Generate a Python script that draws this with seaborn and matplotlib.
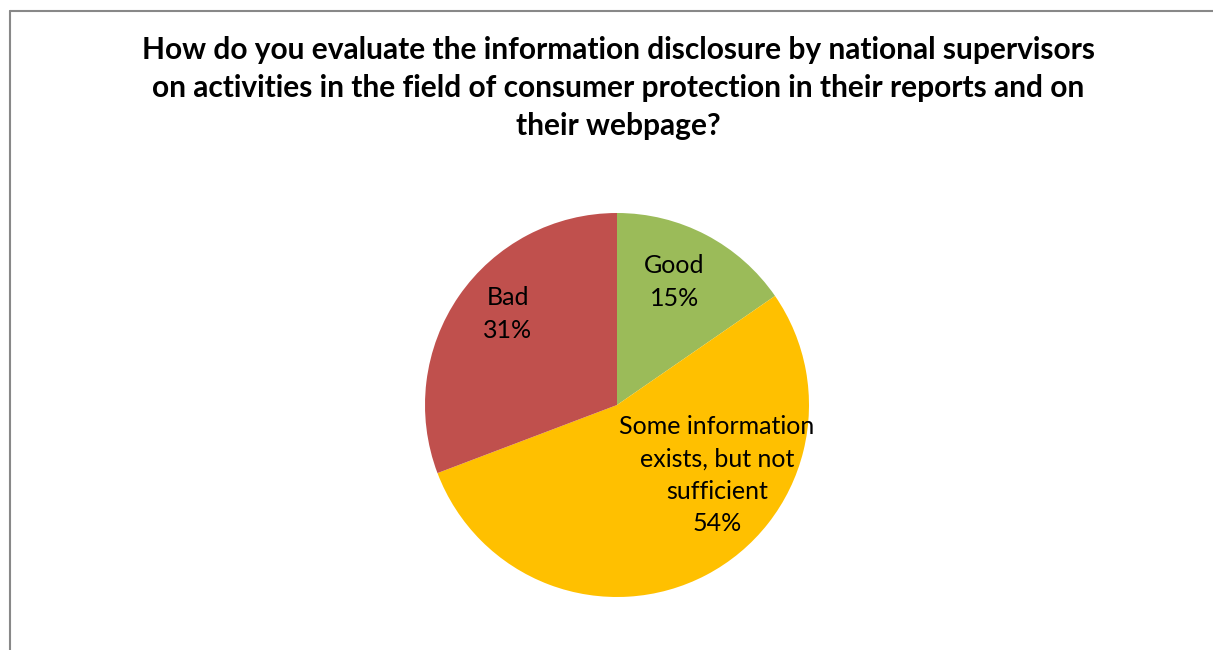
import matplotlib
matplotlib.use("Agg")
import matplotlib.pyplot as plt
from matplotlib.lines import Line2D
import seaborn as sns

# Survey responses (number of supervisors)
categories = ["Good", "Some information\nexists, but not\nsufficient", "Bad"]
counts = [2, 7, 4]
percent_labels = ["15%", "54%", "31%"]
colors = ["#9BBB59", "#FFC000", "#C0504D"]
# label anchor points inside the pie (x, y in radius units)
label_xy = [(0.30, 0.64), (0.52, -0.365), (-0.57, 0.475)]

title = ("How do you evaluate the information disclosure by national supervisors\n"
         "on activities in the field of consumer protection in their reports and on\n"
         "their webpage?")

sns.set_theme(style="white")
plt.rcParams["font.family"] = ["Lato", "DejaVu Sans"]

fig = plt.figure(figsize=(12.13, 6.5), dpi=100)
fig.patch.set_facecolor("white")

W, H = 1213, 650
cx, cy, r = 617, 650 - 405, 192
ax = fig.add_axes([(cx - r) / W, (cy - r) / H, 2 * r / W, 2 * r / H])
wedges, _ = ax.pie(counts, colors=colors, startangle=90, counterclock=False,
                   radius=1.0, wedgeprops=dict(linewidth=0))
ax.set_xlim(-1, 1)
ax.set_ylim(-1, 1)
ax.set_aspect("equal")
ax.axis("off")

for cat, pct, (x, y) in zip(categories, percent_labels, label_xy):
    ax.text(x, y, f"{cat}\n{pct}", ha="center", va="center", fontsize=18,
            color="black", linespacing=1.5)

fig.text(618 / W, 1 - 88 / H, title, ha="center", va="center", fontsize=21.5,
         fontweight="bold", color="black", linespacing=1.42)

# chart frame (left and top edges)
fig.add_artist(Line2D([9.5 / W, 9.5 / W], [0, 1 - 11 / H], color="#888888",
                      linewidth=1.5, transform=fig.transFigure))
fig.add_artist(Line2D([9.5 / W, 1], [1 - 11 / H, 1 - 11 / H], color="#888888",
                      linewidth=1.5, transform=fig.transFigure))

fig.savefig("out.png", dpi=100, facecolor="white")
